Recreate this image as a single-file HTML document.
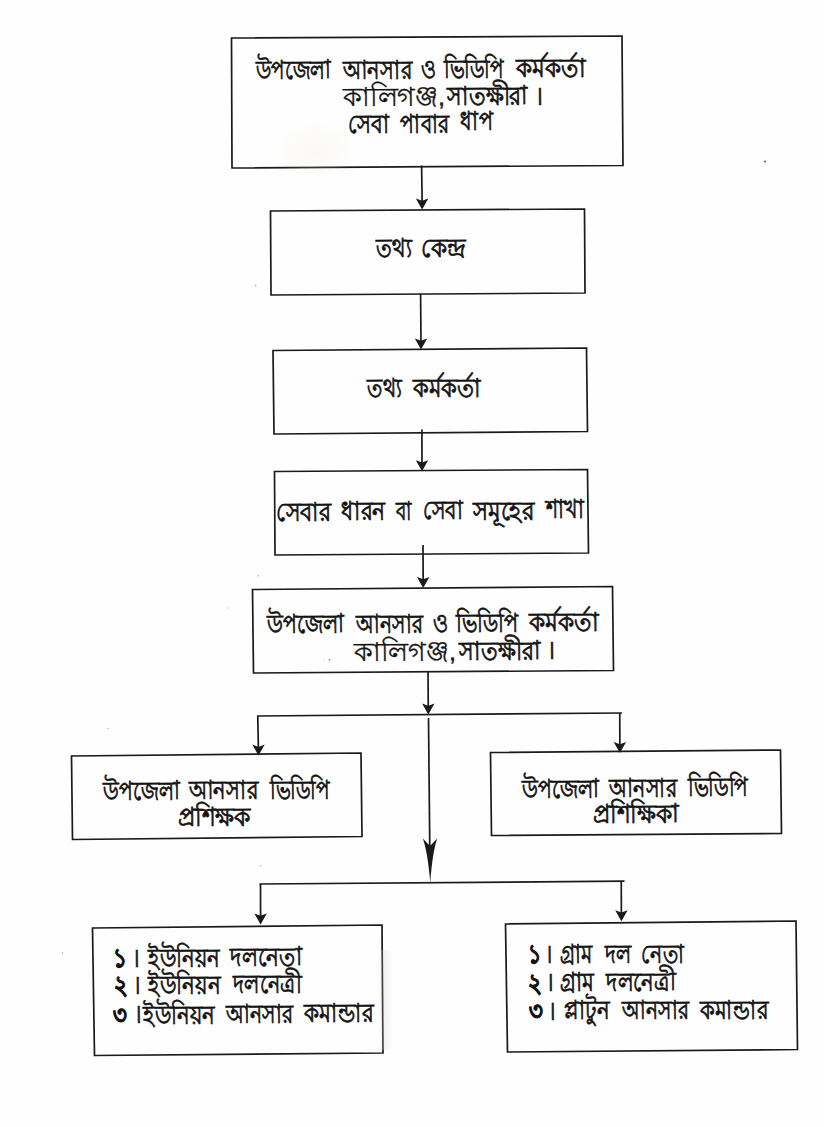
<!DOCTYPE html>
<html lang="bn"><head><meta charset="utf-8"><title>সেবা পাবার ধাপ</title>
<style>
html,body{margin:0;padding:0;background:#fefefe;}
#page{position:relative;width:824px;height:1127px;overflow:hidden;background:#fefefe;}
svg{position:absolute;left:0;top:0;}
.t{position:absolute;white-space:nowrap;font-family:"Liberation Sans",sans-serif;font-size:26px;line-height:1;color:#141414;-webkit-text-stroke:0.8px #141414;transform-origin:0 0;word-spacing:3.5px;}
</style></head><body><div id="page">
<svg width="824" height="1127" viewBox="0 0 824 1127"><g fill="none" stroke="#1a1a1a" stroke-width="1.7" stroke-linejoin="miter">
<polygon points="231.5,38 622,36 623,165.5 232,168"/>
<polygon points="270.5,211 584.5,209 585,293 271,295"/>
<polygon points="273,350.5 586.5,348 587.5,431.5 274,434"/>
<polygon points="274.5,471.5 587.5,469.5 588.5,553 275,555"/>
<polygon points="252.5,589.5 612.5,586.5 613.5,670.5 253.5,673"/>
<polygon points="71.5,756 361,753 362,836.5 72.5,839.5"/>
<polygon points="490.5,752.5 780.5,750 781.5,833.5 491.5,835.5"/>
<polygon points="92.5,928 382,925 383,1053 94.5,1055.5"/>
<polygon points="505.5,924 796,921 797.5,1049.5 507.5,1052"/>
<line x1="421.6" y1="165.5" x2="422.2" y2="207"/>
<line x1="420.6" y1="293.5" x2="421" y2="347"/>
<line x1="421.9" y1="429.5" x2="422" y2="469"/>
<line x1="423" y1="545" x2="423.2" y2="586"/>
<line x1="428" y1="671" x2="428.3" y2="712"/>
<line x1="257.75" y1="716" x2="258.5" y2="753"/>
<line x1="619.75" y1="713" x2="619.9" y2="751"/>
<line x1="428.5" y1="718" x2="430" y2="870"/>
<line x1="260.5" y1="884" x2="260.6" y2="922"/>
<line x1="621.25" y1="881.25" x2="621.4" y2="919"/>
<line x1="257" y1="716" x2="622" y2="713"/>
<line x1="259.5" y1="884" x2="624.5" y2="881.2"/>
</g>
<g fill="#1a1a1a" stroke="none">
<path d="M415.90 198.50 L422.10 200.80 L428.30 198.50 L422.10 209.50 Z"/>
<path d="M414.80 338.50 L421.00 340.80 L427.20 338.50 L421.00 349.50 Z"/>
<path d="M415.80 460.20 L422.00 462.50 L428.20 460.20 L422.00 471.20 Z"/>
<path d="M417.00 577.00 L423.20 579.30 L429.40 577.00 L423.20 588.00 Z"/>
<path d="M422.10 703.50 L428.30 705.80 L434.50 703.50 L428.30 714.50 Z"/>
<path d="M252.30 744.60 L258.50 746.90 L264.70 744.60 L258.50 755.60 Z"/>
<path d="M613.70 742.00 L619.90 744.30 L626.10 742.00 L619.90 753.00 Z"/>
<path d="M254.40 913.40 L260.60 915.70 L266.80 913.40 L260.60 924.40 Z"/>
<path d="M615.20 910.30 L621.40 912.60 L627.60 910.30 L621.40 921.30 Z"/>
<path d="M422.8 838.6 L430 846 L437.2 838.6 Q432.6 851.6 430.2 882.6 Q427.6 851.6 422.8 838.6 Z"/>
</g>
<defs><radialGradient id="sm1"><stop offset="0" stop-color="#f1eee2" stop-opacity="0.35"/><stop offset="1" stop-color="#efeadb" stop-opacity="0"/></radialGradient><linearGradient id="sm2" x1="0" x2="1"><stop offset="0" stop-color="#d9d9de" stop-opacity="0"/><stop offset="0.5" stop-color="#d9d9de" stop-opacity="0.3"/><stop offset="1" stop-color="#d9d9de" stop-opacity="0"/></linearGradient></defs>
<ellipse cx="315" cy="150" rx="40" ry="28" fill="url(#sm1)"/>
<rect x="377" y="950" width="16" height="100" fill="url(#sm2)"/>
<g fill="#333">
<circle cx="765" cy="161.5" r="0.9" fill-opacity="0.9"/>
<circle cx="255.7" cy="285.8" r="0.7" fill-opacity="0.5"/>
<circle cx="258.2" cy="575.7" r="0.7" fill-opacity="0.5"/>
<circle cx="228.4" cy="608" r="0.6" fill-opacity="0.4"/>
<circle cx="108" cy="728.6" r="0.7" fill-opacity="0.5"/>
<circle cx="62.5" cy="953" r="0.7" fill-opacity="0.5"/>
<circle cx="261" cy="865.6" r="0.7" fill-opacity="0.5"/>
<circle cx="329.5" cy="659.8" r="0.8" fill-opacity="0.7"/>
<circle cx="323.7" cy="659.5" r="0.6" fill-opacity="0.3"/>
</g></svg>
<div class="t" style="left:255.93px;top:57.30px;transform:rotate(-0.45deg) scaleX(0.7643)">উপজেলা</div>
<div class="t" style="left:342.99px;top:57.05px;transform:rotate(-0.45deg) scaleX(0.8084)">আনসার</div>
<div class="t" style="left:420.83px;top:56.14px;transform:rotate(-0.45deg) scaleX(0.7901)">ও</div>
<div class="t" style="left:443.96px;top:56.09px;transform:rotate(-0.45deg) scaleX(0.7718)">ভিডিপি</div>
<div class="t" style="left:516.08px;top:54.93px;transform:rotate(-0.45deg) scaleX(0.8929)">কর্মকর্তা</div>
<div class="t" style="left:342.54px;top:84.02px;-webkit-text-stroke-width:0.3px;transform:rotate(-0.45deg) scaleX(1.0407)">কালিগঞ্জ,</div>
<div class="t" style="left:447.46px;top:83.20px;transform:rotate(-0.45deg) scaleX(0.8538)">সাতক্ষীরা</div>
<div class="t" style="left:535.21px;top:82.51px;transform:rotate(-0.45deg) scaleX(0.8538)">।</div>
<div class="t" style="left:348.21px;top:111.14px;transform:rotate(-0.45deg) scaleX(0.8174)">সেবা</div>
<div class="t" style="left:400.00px;top:110.69px;transform:rotate(-0.45deg) scaleX(0.7904)">পাবার</div>
<div class="t" style="left:460.49px;top:108.05px;transform:rotate(-0.45deg) scaleX(0.8024)">ধাপ</div>
<div class="t" style="left:375.94px;top:235.21px;transform:rotate(-0.45deg) scaleX(0.8109)">তথ্য</div>
<div class="t" style="left:420.77px;top:235.46px;transform:rotate(-0.45deg) scaleX(0.8917)">কেন্দ্র</div>
<div class="t" style="left:366.80px;top:374.90px;transform:rotate(-0.45deg) scaleX(0.7899)">তথ্য</div>
<div class="t" style="left:413.23px;top:374.70px;transform:rotate(-0.45deg) scaleX(0.8736)">কর্মকর্তা</div>
<div class="t" style="left:276.00px;top:499.05px;transform:rotate(-0.45deg) scaleX(0.8551)">সেবার</div>
<div class="t" style="left:341.02px;top:498.19px;transform:rotate(-0.45deg) scaleX(0.8423)">ধারন</div>
<div class="t" style="left:395.85px;top:497.80px;transform:rotate(-0.45deg) scaleX(0.7268)">বা</div>
<div class="t" style="left:422.58px;top:497.46px;transform:rotate(-0.45deg) scaleX(0.7940)">সেবা</div>
<div class="t" style="left:473.03px;top:497.55px;transform:rotate(-0.45deg) scaleX(0.8831)">সমূহের</div>
<div class="t" style="left:545.93px;top:495.80px;transform:rotate(-0.45deg) scaleX(0.7945)">শাখা</div>
<div class="t" style="left:266.98px;top:611.30px;transform:rotate(-0.45deg) scaleX(0.7912)">উপজেলা</div>
<div class="t" style="left:355.99px;top:610.87px;transform:rotate(-0.45deg) scaleX(0.7841)">আনসার</div>
<div class="t" style="left:432.66px;top:610.05px;transform:rotate(-0.45deg) scaleX(0.7982)">ও</div>
<div class="t" style="left:455.97px;top:609.93px;transform:rotate(-0.45deg) scaleX(0.8052)">ভিডিপি</div>
<div class="t" style="left:528.62px;top:608.76px;transform:rotate(-0.45deg) scaleX(0.8978)">কর্মকর্তা</div>
<div class="t" style="left:353.96px;top:639.02px;-webkit-text-stroke-width:0.3px;transform:rotate(-0.45deg) scaleX(1.0384)">কালিগঞ্জ,</div>
<div class="t" style="left:458.81px;top:638.03px;transform:rotate(-0.45deg) scaleX(0.8569)">সাতক্ষীরা</div>
<div class="t" style="left:547.28px;top:637.42px;transform:rotate(-0.45deg) scaleX(0.8569)">।</div>
<div class="t" style="left:103.16px;top:778.33px;transform:rotate(-0.45deg) scaleX(0.7834)">উপজেলা</div>
<div class="t" style="left:189.00px;top:777.25px;transform:rotate(-0.45deg) scaleX(0.8109)">আনসার</div>
<div class="t" style="left:269.50px;top:777.18px;transform:rotate(-0.45deg) scaleX(0.7750)">ভিডিপি</div>
<div class="t" style="left:178.49px;top:804.30px;transform:rotate(-0.45deg) scaleX(0.9062)">প্রশিক্ষক</div>
<div class="t" style="left:521.51px;top:776.33px;transform:rotate(-0.45deg) scaleX(0.7912)">উপজেলা</div>
<div class="t" style="left:609.08px;top:775.08px;transform:rotate(-0.45deg) scaleX(0.7948)">আনসার</div>
<div class="t" style="left:688.17px;top:774.19px;transform:rotate(-0.45deg) scaleX(0.7772)">ভিডিপি</div>
<div class="t" style="left:592.93px;top:801.34px;transform:rotate(-0.45deg) scaleX(0.9047)">প্রশিক্ষিকা</div>
<div class="t" style="left:113.46px;top:944.76px;transform:rotate(-0.45deg) scaleX(0.8269)"><b>১</b></div>
<div class="t" style="left:131.69px;top:944.61px;transform:rotate(-0.45deg) scaleX(0.8269)">।</div>
<div class="t" style="left:148.01px;top:944.68px;transform:rotate(-0.45deg) scaleX(0.8218)">ইউনিয়ন</div>
<div class="t" style="left:230.24px;top:943.63px;transform:rotate(-0.45deg) scaleX(0.8320)">দলনেতা</div>
<div class="t" style="left:114.22px;top:972.19px;transform:rotate(-0.45deg) scaleX(0.8133)"><b>২</b></div>
<div class="t" style="left:132.92px;top:972.04px;transform:rotate(-0.45deg) scaleX(0.8133)">।</div>
<div class="t" style="left:148.02px;top:972.12px;transform:rotate(-0.45deg) scaleX(0.8267)">ইউনিয়ন</div>
<div class="t" style="left:232.52px;top:971.05px;transform:rotate(-0.45deg) scaleX(0.7999)">দলনেত্রী</div>
<div class="t" style="left:113.49px;top:1001.59px;transform:rotate(-0.45deg) scaleX(0.8179)"><b>৩</b></div>
<div class="t" style="left:133.65px;top:1001.43px;transform:rotate(-0.45deg) scaleX(0.8179)">।</div>
<div class="t" style="left:142.90px;top:1001.52px;transform:rotate(-0.45deg) scaleX(0.8179)">ইউনিয়ন</div>
<div class="t" style="left:225.96px;top:1000.62px;transform:rotate(-0.45deg) scaleX(0.7879)">আনসার</div>
<div class="t" style="left:304.01px;top:1000.09px;transform:rotate(-0.45deg) scaleX(0.8338)">কমান্ডার</div>
<div class="t" style="left:528.34px;top:941.18px;transform:rotate(-0.45deg) scaleX(0.7894)"><b>১</b></div>
<div class="t" style="left:544.98px;top:941.05px;transform:rotate(-0.45deg) scaleX(0.7894)">।</div>
<div class="t" style="left:560.49px;top:940.54px;transform:rotate(-0.45deg) scaleX(0.7865)">গ্রাম</div>
<div class="t" style="left:605.12px;top:940.57px;transform:rotate(-0.45deg) scaleX(0.7894)">দল</div>
<div class="t" style="left:641.04px;top:940.53px;transform:rotate(-0.45deg) scaleX(0.7916)">নেতা</div>
<div class="t" style="left:528.02px;top:969.55px;transform:rotate(-0.45deg) scaleX(0.8212)"><b>২</b></div>
<div class="t" style="left:546.04px;top:969.41px;transform:rotate(-0.45deg) scaleX(0.8212)">।</div>
<div class="t" style="left:560.46px;top:969.47px;transform:rotate(-0.45deg) scaleX(0.8262)">গ্রাম</div>
<div class="t" style="left:605.97px;top:968.77px;transform:rotate(-0.45deg) scaleX(0.8162)">দলনেত্রী</div>
<div class="t" style="left:528.72px;top:998.14px;transform:rotate(-0.45deg) scaleX(0.8175)"><b>৩</b></div>
<div class="t" style="left:548.10px;top:997.99px;transform:rotate(-0.45deg) scaleX(0.8175)">।</div>
<div class="t" style="left:564.03px;top:997.35px;transform:rotate(-0.45deg) scaleX(0.8190)">প্লাটুন</div>
<div class="t" style="left:622.37px;top:997.41px;transform:rotate(-0.45deg) scaleX(0.7834)">আনসার</div>
<div class="t" style="left:699.53px;top:996.88px;transform:rotate(-0.45deg) scaleX(0.8175)">কমান্ডার</div>
</div></body></html>
